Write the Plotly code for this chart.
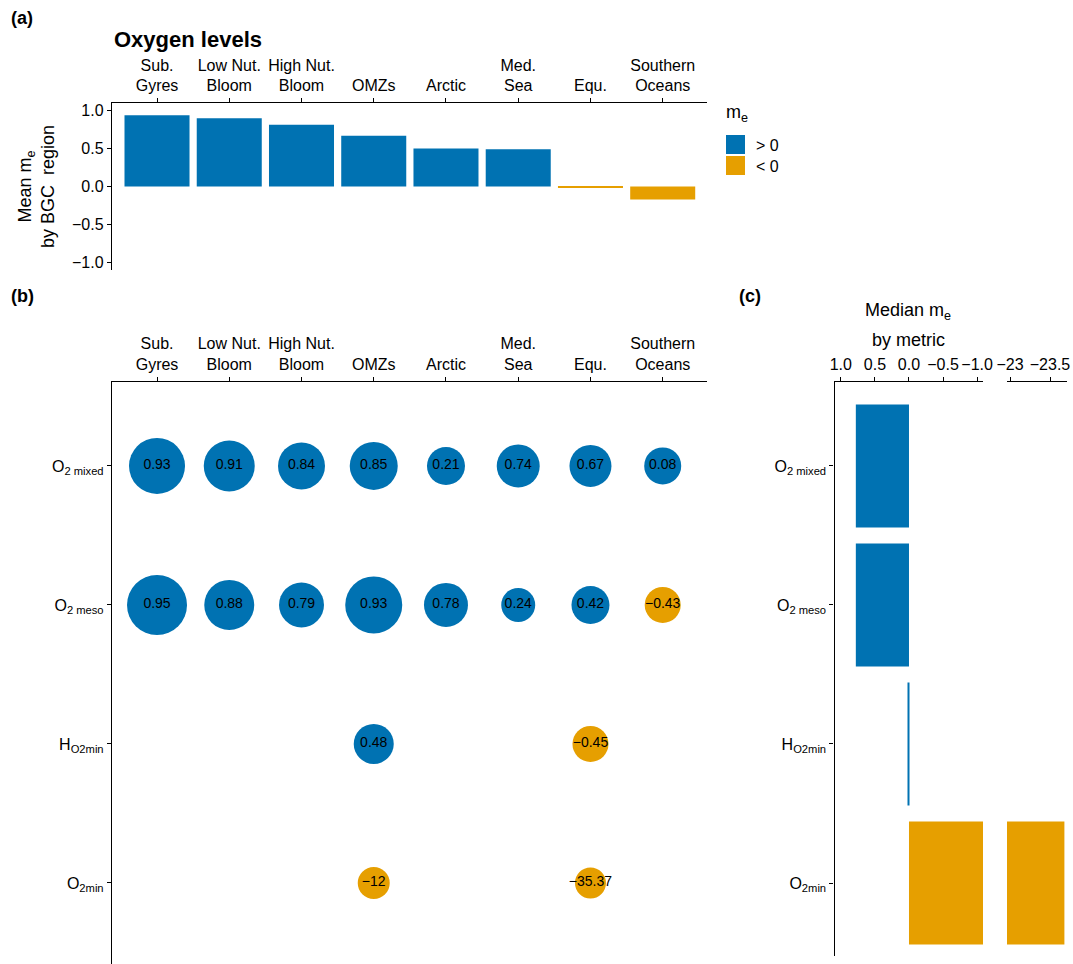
import plotly.graph_objects as go

W, H = 1073, 964

# ---------------- data ----------------
regions = ["Sub.<br>Gyres", "Low Nut.<br>Bloom", "High Nut.<br>Bloom", "OMZs",
           "Arctic", "Med.<br>Sea", "Equ.", "Southern<br>Oceans"]
mean_me = [0.94, 0.90, 0.815, 0.67, 0.50, 0.49, -0.02, -0.17]

metrics = ["O<sub>2 mixed</sub>", "O<sub>2 meso</sub>", "H<sub>O2min</sub>", "O<sub>2min</sub>"]

o2_mixed = [0.93, 0.91, 0.84, 0.85, 0.21, 0.74, 0.67, 0.08]
o2_meso = [0.95, 0.88, 0.79, 0.93, 0.78, 0.24, 0.42, -0.43]
h_o2min = [None, None, None, 0.48, None, None, -0.45, None]
o2min = [None, None, None, -12, None, None, -35.37, None]

# bubble weights (drawn as marker diameter)
w_o2_mixed = [56, 51, 47, 48, 38, 43, 42, 37]
w_o2_meso = [60, 50, 45, 57, 44, 34, 38, 36]
w_h_o2min = [None, None, None, 40, None, None, 36, None]
w_o2min = [None, None, None, 32, None, None, 31, None]

median_me = [0.78, 0.78, 0.02, -23.68]

BLUE = "#0072B2"
ORANGE = "#E69F00"
FONT = "Liberation Sans, Arial, sans-serif"


def col(v):
    return BLUE if v > 0 else ORANGE


def fmt(v):
    return f"{v:g}".replace("-", "\u2212")


def px_x(x):
    return x / W


def px_y(y):
    return 1 - y / H


fig = go.Figure()

# ---------------- panel (a) ----------------
fig.add_trace(go.Bar(
    x=regions, y=mean_me, width=0.9,
    marker=dict(color=[col(v) for v in mean_me], line=dict(width=0)),
    xaxis="x", yaxis="y", showlegend=False, hoverinfo="skip"))

# ---------------- panel (b) ----------------
rows = [o2_mixed, o2_meso, h_o2min, o2min]
wrows = [w_o2_mixed, w_o2_meso, w_h_o2min, w_o2min]
bx, by, bv, bw = [], [], [], []
for m, vals, ws in zip(metrics, rows, wrows):
    for r, v, w in zip(regions, vals, ws):
        if v is None:
            continue
        bx.append(r); by.append(m); bv.append(v); bw.append(w)

fig.add_trace(go.Scatter(
    x=bx, y=by, mode="markers+text",
    text=[fmt(v) for v in bv], textposition="middle center",
    textfont=dict(family=FONT, size=14, color="black"),
    marker=dict(size=bw, sizemode="diameter", color=[col(v) for v in bv],
                opacity=1, line=dict(width=0)),
    xaxis="x2", yaxis="y2", showlegend=False, hoverinfo="skip", cliponaxis=False))

# ---------------- panel (c) ----------------
for xa in ["x3", "x4"]:
    fig.add_trace(go.Bar(
        x=median_me, y=metrics, orientation="h", width=0.885,
        marker=dict(color=[col(v) for v in median_me], line=dict(width=0)),
        xaxis=xa, yaxis="y3", showlegend=False, hoverinfo="skip"))

axis_common = dict(showline=True, linecolor="black", linewidth=1.4, ticks="outside",
                   ticklen=4, tickwidth=1.3, tickcolor="black", showgrid=False, zeroline=False,
                   automargin=False, tickangle=0,
                   tickfont=dict(family=FONT, size=16, color="black"))

xa_dom = [px_x(112), px_x(707)]
cat_range = [-0.623, 7.613]

fig.update_layout(
    width=W, height=H,
    margin=dict(l=0, r=0, t=0, b=0, pad=0),
    paper_bgcolor="white", plot_bgcolor="white",
    font=dict(family=FONT, color="black"),
    barmode="overlay",
    xaxis=dict(axis_common, domain=xa_dom, anchor="y", side="top", type="category",
               categoryorder="array", categoryarray=regions, range=cat_range),
    yaxis=dict(axis_common, domain=[px_y(270), px_y(103)], anchor="x", range=[-1.1, 1.1],
               tickvals=[-1, -0.5, 0, 0.5, 1], tickformat=".1f"),
    xaxis2=dict(axis_common, domain=xa_dom, anchor="y2", side="top", type="category",
                categoryorder="array", categoryarray=regions, range=cat_range),
    yaxis2=dict(axis_common, domain=[0, px_y(381.7)], anchor="x2", type="category",
                categoryorder="array", categoryarray=metrics, range=[3.583, -0.606]),
    xaxis3=dict(axis_common, domain=[px_x(834.5), px_x(983)], anchor="y3", side="top",
                range=[1.093, -1.086], tickvals=[1, 0.5, 0, -0.5, -1],
                ticktext=["1.0", "0.5", "0.0", "\u22120.5", "\u22121.0"]),
    xaxis4=dict(axis_common, domain=[px_x(1007), px_x(1067)], anchor="y3", side="top",
                range=[-22.9625, -23.7125], tickvals=[-23, -23.5],
                ticktext=["\u221223", "\u221223.5"]),
    yaxis3=dict(axis_common, domain=[px_y(956), px_y(381.7)], anchor="x3", type="category",
                categoryorder="array", categoryarray=metrics, range=[3.525, -0.606]),
)

ann = []


def add_text(text, x, y, size, bold=False, xanchor="left", yanchor="middle", angle=0):
    ann.append(dict(text=f"<b>{text}</b>" if bold else text, x=px_x(x), y=px_y(y),
                    xref="paper", yref="paper", showarrow=False, xanchor=xanchor,
                    yanchor=yanchor, textangle=angle,
                    font=dict(family=FONT, size=size, color="black")))


add_text("(a)", 9, 18, 18, bold=True)
add_text("(b)", 9, 296, 18, bold=True)
add_text("(c)", 737, 296, 18, bold=True)
add_text("Oxygen levels", 112, 40, 22, bold=True)
add_text("Mean m<sub>e</sub><br>by BGC  region", 37, 187, 18, xanchor="center", angle=-90)
add_text("Median m<sub>e</sub>", 908, 312, 18, xanchor="center")
add_text("by metric", 908, 340, 18, xanchor="center")

# legend
add_text("m<sub>e</sub>", 724, 113, 18)
add_text("&gt; 0", 754, 145, 16)
add_text("&lt; 0", 754, 166, 16)
fig.update_layout(annotations=ann)
fig.add_shape(type="rect", xref="paper", yref="paper", x0=px_x(726), x1=px_x(745),
              y0=px_y(154), y1=px_y(135), fillcolor=BLUE, line=dict(width=0))
fig.add_shape(type="rect", xref="paper", yref="paper", x0=px_x(726), x1=px_x(745),
              y0=px_y(175), y1=px_y(156), fillcolor=ORANGE, line=dict(width=0))

fig.write_html("out.html", config={"displayModeBar": False},
               post_script="document.body.style.margin='0';document.body.style.overflow='hidden';")
